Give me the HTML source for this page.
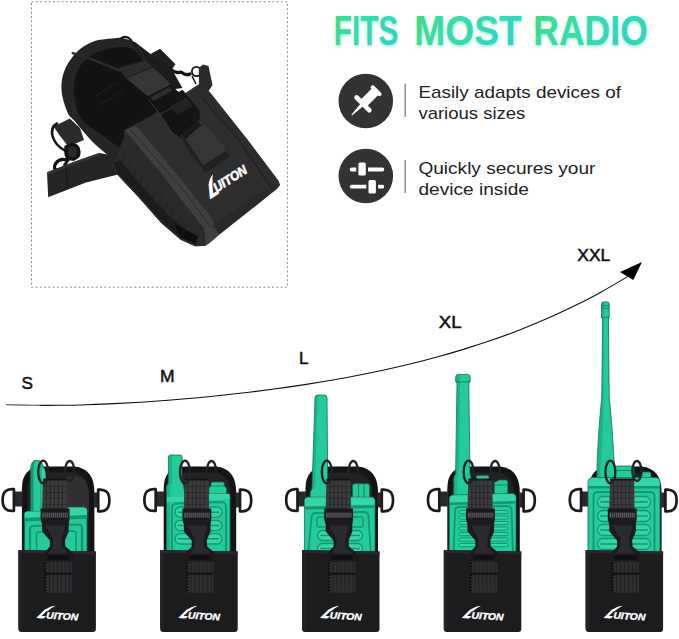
<!DOCTYPE html>
<html><head><meta charset="utf-8"><title>Fits most radio</title>
<style>
html,body{margin:0;padding:0;background:#fff;}
body{width:679px;height:639px;overflow:hidden;position:relative;font-family:"Liberation Sans",sans-serif;}
svg{position:absolute;left:0;top:0;}
</style></head>
<body>
<svg width="679" height="639" viewBox="0 0 679 639">
<defs>
 <linearGradient id="tg" x1="0" y1="0" x2="1" y2="0.35">
  <stop offset="0" stop-color="#44dc80"/><stop offset="0.45" stop-color="#36dcaa"/><stop offset="1" stop-color="#2fd6c2"/>
 </linearGradient>
 <filter id="soft" x="-20%" y="-20%" width="140%" height="140%"><feGaussianBlur stdDeviation="6"/></filter>
 <filter id="glow" x="-5%" y="-20%" width="110%" height="150%"><feGaussianBlur stdDeviation="1.6"/></filter>
</defs>
<rect width="679" height="639" fill="#fff"/>
<g stroke-linejoin="round"><rect x="31.5" y="1.8" width="255.9" height="285.4" fill="#fff" stroke="#8c8c8c" stroke-width="1" stroke-dasharray="2 2.3"/><polygon points="53.6,126.5 69.8,118.4 80.0,128.0 84.0,140.0 68.3,146.5 59.5,135.3" fill="#2b2b2d" /><path d="M57,123.5 Q50.5,127 52.5,136 Q55.5,146 65,150.5" fill="none" stroke="#161618" stroke-width="2.6" stroke-linecap="round"/><path d="M66,147 Q74,142 78,148 Q81,156 74,159 Q66,160 66,152 Z" fill="#2a2a2c" stroke="#131315" stroke-width="3.4"/><path d="M67,160 Q60,158 56,163 Q52,169 58,171 Q66,172 69,165" fill="none" stroke="#131315" stroke-width="3.2"/><path d="M70,157 L64,166" stroke="#131315" stroke-width="3"/><polygon points="47.0,172.2 75.0,161.5 99.2,153.0 128.0,158.0 128.0,172.0 86.0,182.5 48.2,197.2" fill="#242426" /><polygon points="47.0,172.2 75.0,161.5 99.2,153.0 100.0,155.5 76.0,164.0 49.0,174.5" fill="#333336" /><path d="M66,166 L68,189" stroke="#161618" stroke-width="1"/><polygon points="150.5,53.9 160.1,48.7 175.5,64.2 170.0,72.0 158.6,64.0" fill="#202022" /><path d="M170,69 Q176,74 181,72 Q186,76 190,74" fill="none" stroke="#131315" stroke-width="3.2" stroke-linecap="round"/><circle cx="196.5" cy="71.5" r="4.6" fill="none" stroke="#131315" stroke-width="1.8"/><path d="M192,76 L196,84 M200,74 L204,68" stroke="#131315" stroke-width="1.6"/><polygon points="198.8,68.0 203.0,64.5 208.5,66.0 212.5,85.0 207.7,92.5 199.0,86.0" fill="#2a2a2c" /><polygon points="119.9,39.1 135.0,42.0 150.5,53.9 171.6,69.0 182.5,88.1 155.3,92.0 133.5,63.6" fill="#1c1c1e" /><path d="M124.3,38.4 C120.0,37.1 117.2,38.0 112.5,38.4 C107.8,38.8 101.5,39.0 96.3,40.6 C91.1,42.2 85.4,45.3 81.5,48.0 C77.6,50.7 75.4,53.4 72.7,56.8 C70.0,60.2 67.1,64.4 65.3,68.6 C63.5,72.8 62.2,77.2 61.7,81.9 C61.2,86.6 61.3,91.2 62.4,96.6 C63.5,101.9 66.3,110.0 68.3,114.0 C70.3,118.0 70.3,116.1 74.2,120.6 C78.1,125.1 85.5,134.8 91.9,141.2 C98.3,147.6 106.2,153.8 112.5,158.9 C118.8,164.0 123.8,171.8 130.0,172.0 C136.2,172.2 145.0,170.3 150.0,160.0 C155.0,149.7 160.0,125.0 160.0,110.0 C160.0,95.0 153.7,80.7 150.0,70.0 C146.3,59.3 142.3,51.3 138.0,46.0 C133.7,40.7 128.6,39.7 124.3,38.4 Z" fill="#252527" /><path d="M132.0,49.0 C128.1,46.9 123.6,46.9 118.4,47.2 C113.2,47.5 105.6,49.3 100.7,50.9 C95.8,52.5 92.6,53.8 88.9,56.8 C85.2,59.8 81.0,64.4 78.6,68.6 C76.1,72.8 74.9,77.2 74.2,81.9 C73.5,86.6 73.5,91.2 74.2,96.6 C74.9,101.9 76.6,109.4 78.6,114.0 C80.6,118.6 82.3,120.7 86.0,124.0 C89.7,127.3 94.3,129.6 100.7,133.9 C107.1,138.2 117.8,147.3 124.3,150.0 C130.8,152.7 134.7,155.0 140.0,150.0 C145.3,145.0 154.0,130.8 156.0,120.0 C158.0,109.2 154.3,95.0 152.0,85.0 C149.7,75.0 145.3,66.0 142.0,60.0 C138.7,54.0 135.9,51.1 132.0,49.0 Z" fill="#131315" /><path d="M96,96 L118,82 M101,104 L123,90" stroke="#1f1f21" stroke-width="1.2"/><path d="M72.7,53.1 Q96,60 119.8,70.8" fill="none" stroke="#2c2c2f" stroke-width="2.4" stroke-linecap="round"/><path d="M120.3,38.8 Q126,34.5 131,40 Q138,49 142.4,58.3" fill="none" stroke="#1a1a1c" stroke-width="2"/><polygon points="124.7,130.2 151.2,116.2 198.4,84.8 209.1,91.7 247.4,140.0 278.4,181.2 279.6,185.0 276.9,188.6 219.5,234.0 210.0,242.2 205.7,245.3 195.4,246.0 180.7,239.4 161.5,223.0 139.5,198.0 117.4,174.4 111.0,163.0 116.6,154.5 124.7,138.3" fill="#2e2e31" stroke="#2a2a2c" stroke-width="0.8"/><polygon points="124.7,136.0 116.6,154.5 111.0,163.0 117.4,174.4 139.5,198.0 161.5,223.0 180.7,239.4 195.4,246.0 205.7,245.3 204.3,228.9 158.6,170.0 128.0,134.0" fill="#2a2a2c" /><polygon points="113.0,163.0 118.0,173.0 139.5,196.0 161.5,221.0 180.7,237.5 195.4,244.0 196.0,238.0 168.0,215.0 140.0,184.0 120.0,160.0" fill="#1b1b1d" /><polygon points="174.0,224.0 198.0,236.0 196.0,244.0 180.7,237.5" fill="#0e0e10" /><path d="M118.0,150.0 L113.0,163.0 M124.2,156.6 L119.2,169.6 M130.4,163.2 L125.4,176.2 M136.6,169.8 L131.6,182.8 M142.8,176.4 L137.8,189.4 M149.0,183.0 L144.0,196.0 M155.2,189.6 L150.2,202.6 M161.4,196.2 L156.4,209.2 M167.6,202.8 L162.6,215.8 M173.8,209.4 L168.8,222.4 M180.0,216.0 L175.0,229.0 M186.2,222.6 L181.2,235.6 " stroke="#1d1d1f" stroke-width="0.9" opacity="0.8"/><polygon points="124.7,130.2 136.0,125.5 173.3,170.0 210.0,215.7 219.5,234.0 210.0,242.2 205.7,245.3 204.3,228.9 158.6,170.0" fill="#3f3f42" /><path d="M131,130 L186.6,194 L210,226" fill="none" stroke="#222224" stroke-width="1.2" stroke-dasharray="1.4 1.6"/><polygon points="196.0,89.0 200.3,85.0 209.1,91.7 247.4,140.0 278.4,181.2 279.6,185.0 276.9,188.6 270.0,194.0 271.7,188.6 238.6,140.0 201.0,96.8" fill="#2c2c2f" /><path d="M201,96.8 L238.6,140 L271.7,188.6" fill="none" stroke="#1c1c1e" stroke-width="1"/><polygon points="270.0,194.0 219.5,234.0 212.0,226.0 266.0,188.0" fill="#29292c" /><polygon points="126.2,78.2 152.7,67.1 168.9,81.9 171.9,89.2 149.8,98.1 139.5,89.2" fill="#363639" /><polygon points="117.4,67.9 146.1,59.8 152.7,67.1 126.2,78.2" fill="#2c2c2e" stroke="#19191b" stroke-width="0.8"/><polygon points="147.0,96.5 170.5,84.4 178.5,92.1 182.5,89.7 199.6,110.5 199.5,122.0 190.0,129.0 179.0,138.5 171.0,131.0 158.0,112.0" fill="#141416" /><polygon points="150.0,97.5 169.5,87.0 172.5,90.5 153.5,101.0" fill="#2e2e31" /><polygon points="170.0,106.0 187.0,97.5 193.0,106.0 176.5,115.0" fill="#222225" /><path d="M148.5,99.5 L160,114 L172,108 M160,114 L172,133 L179,137" fill="none" stroke="#3a3a3d" stroke-width="1"/><polygon points="180.0,136.0 199.0,120.0 219.5,140.0 229.8,156.5 205.5,173.1 190.0,153.3" fill="#363639" /><polygon points="180.0,136.0 182.5,134.5 207.5,171.5 205.5,173.1 190.0,153.3" fill="#222224" /><polygon points="202.0,166.5 226.5,150.5 229.8,156.5 205.5,173.1" fill="#202022" /><polygon points="182.0,134.5 198.0,121.0 201.5,125.0 185.5,139.0" fill="#19191b" /><g transform="translate(209.6,199) rotate(-33)" font-family="'Liberation Sans',sans-serif" font-weight="bold" fill="#fff" stroke="#fff" stroke-width="0.4"><text transform="skewX(-28)" font-size="18" x="0" y="0" stroke-width="1.3">L</text><text font-style="italic" x="9.5" y="-1.5" font-size="13" textLength="37.5" lengthAdjust="spacingAndGlyphs" stroke-width="0.6">UITON</text><path d="M7,-12.5 Q10.5,-17 16.5,-19 Q13,-16 11.5,-12 Z" stroke="none"/></g></g>
<!-- title -->
<g font-family="'Liberation Sans',sans-serif" font-weight="bold" font-size="42.5">
<g fill="#a9ecd4" filter="url(#glow)" transform="translate(0.5,2)">
<text x="333.8" y="44.9" textLength="64.5" lengthAdjust="spacingAndGlyphs">FITS</text>
<text x="414.3" y="44.9" textLength="107.5" lengthAdjust="spacingAndGlyphs">MOST</text>
<text x="533.3" y="44.9" textLength="114.5" lengthAdjust="spacingAndGlyphs">RADIO</text>
</g>
<g fill="url(#tg)">
<text x="333.8" y="44.9" textLength="64.5" lengthAdjust="spacingAndGlyphs">FITS</text>
<text x="414.3" y="44.9" textLength="107.5" lengthAdjust="spacingAndGlyphs">MOST</text>
<text x="533.3" y="44.9" textLength="114.5" lengthAdjust="spacingAndGlyphs">RADIO</text>
</g>
</g>
<!-- icons -->
<circle cx="365.8" cy="101" r="27.3" fill="#333"/>
<g transform="translate(365.8,101) rotate(45)" fill="#fff">
 <rect x="-6.8" y="-16.6" width="13.6" height="4" rx="1.9"/>
 <rect x="-4.6" y="-13.5" width="9.2" height="16"/>
 <rect x="-11.3" y="1.6" width="22.6" height="4.8" rx="2.4"/>
 <path d="M-1.8,6 L1.8,6 L0.5,20 L-0.5,20 Z"/>
</g>
<circle cx="365.8" cy="176" r="27.3" fill="#333"/>
<g fill="#fff">
 <rect x="349.8" y="167.6" width="34.4" height="3.8" rx="1.9"/>
 <rect x="349.8" y="184.8" width="34.4" height="3.8" rx="1.9"/>
 <rect x="357.3" y="161.5" width="9.6" height="15" rx="2.6" stroke="#333" stroke-width="2.2"/>
 <rect x="367.4" y="179" width="9.6" height="15.5" rx="2.6" stroke="#333" stroke-width="2.2"/>
</g>
<rect x="404.6" y="83.5" width="1.2" height="33.5" fill="#777"/>
<rect x="404.6" y="160" width="1.2" height="33" fill="#777"/>
<g font-family="'Liberation Sans',sans-serif" font-size="17" fill="#222">
 <text x="418.4" y="98.3" textLength="202.5" lengthAdjust="spacingAndGlyphs">Easily adapts devices of</text>
 <text x="418.4" y="118.8" textLength="107" lengthAdjust="spacingAndGlyphs">various sizes</text>
 <text x="418.4" y="174.3" textLength="177" lengthAdjust="spacingAndGlyphs">Quickly secures your</text>
 <text x="418.4" y="194.8" textLength="110.5" lengthAdjust="spacingAndGlyphs">device inside</text>
</g>
<!-- curve -->
<path d="M6.0,404.8 C10.5,404.9 24.0,405.2 33.0,405.3 C42.0,405.4 51.0,405.4 60.0,405.3 C69.0,405.2 78.0,405.0 87.0,404.7 C96.0,404.4 105.0,404.1 114.0,403.6 C123.0,403.2 132.0,402.7 141.0,402.2 C150.0,401.6 159.0,401.0 168.0,400.3 C177.0,399.6 186.0,398.8 195.0,398.0 C204.0,397.2 213.0,396.3 222.0,395.3 C231.0,394.4 240.0,393.4 249.0,392.3 C258.0,391.2 267.0,390.0 276.0,388.8 C285.0,387.6 294.0,386.3 303.0,384.9 C312.0,383.5 321.0,382.0 330.0,380.5 C339.0,378.9 348.0,377.3 357.0,375.5 C366.0,373.8 375.0,371.9 384.0,370.0 C393.0,368.0 402.0,365.9 411.0,363.7 C420.0,361.5 429.0,359.2 438.0,356.7 C447.0,354.3 456.0,351.7 465.0,348.9 C474.0,346.1 483.0,343.2 492.0,340.1 C501.0,337.0 510.0,333.7 519.0,330.2 C528.0,326.7 537.0,323.0 546.0,319.1 C555.0,315.2 564.0,311.0 573.0,306.6 C582.0,302.2 590.8,297.8 600.0,292.7 C609.2,287.6 623.8,278.9 628.5,276.1 " fill="none" stroke="#111" stroke-width="1.1"/><path d="M2,405.2 L40,405" stroke="#fff" stroke-width="1" opacity="0.55"/>
<path d="M642,262 L620,272 L633.3,280 Z" fill="#000"/>
<g font-family="'Liberation Sans',sans-serif" font-size="17.2" fill="#111" stroke="#111" stroke-width="0.5">
 <text x="21.6" y="389">S</text>
 <text x="160" y="381.5" textLength="14.6" lengthAdjust="spacingAndGlyphs">M</text>
 <text x="299" y="363.5">L</text>
 <text x="438.8" y="327.5" textLength="22.8" lengthAdjust="spacingAndGlyphs">XL</text>
 <text x="577.3" y="260.7" textLength="33" lengthAdjust="spacingAndGlyphs">XXL</text>
</g>
<g transform="translate(18.4,550.5)">
 <path d="M3.5,2 L3.5,-62 Q3.5,-84 25,-84 L56,-84 Q76,-82 76,-58 L76,2 Z" fill="#141416"/>
 <path d="M9,2 L9,-60 Q9,-78 27,-78 L54,-78 Q70.5,-76 70.5,-56 L70.5,2 Z" fill="#222224"/>
 <rect x="-4" y="-59" width="8" height="15" fill="#2a2a2c"/>
 <rect x="75.5" y="-58" width="4" height="15" fill="#2a2a2c"/>
 <path d="M-4.5,-61.3 Q-15.8,-62.5 -15.8,-50.5 Q-15.8,-38.5 -4.5,-39.7 Z" fill="none" stroke="#1b1b1d" stroke-width="2.7" stroke-linejoin="round"/>
 <path d="M79.8,-60.8 Q91,-62 91,-50 Q91,-38 79.8,-39.2 Z" fill="none" stroke="#1b1b1d" stroke-width="2.7" stroke-linejoin="round"/>
<path d="M48,-74 L58,-74 Q70.5,-72 70.5,-54 L70.5,-32 L48,-36 Z" fill="#313134"/></g>

<g stroke-linejoin="round">
 <path d="M30.7,552 L30.7,469 Q30.7,460.2 37,460.2 Q43.3,460.2 43.3,469 L43.3,552 Z" fill="#22cb99" stroke="#146b52" stroke-width="0.8"/>
 <path d="M41,466 Q45.8,467 45.8,476 L45.8,505 Q45.8,510 43,512 L41,512 Z" fill="#34d6a8" stroke="#146b52" stroke-width="0.6"/>
 <path d="M31,469 Q31,461 36,460.5 Q33.5,463 33.5,470 L33.5,552 L31,552 Z" fill="#159672"/>
 <path d="M24.6,554 L24.6,514 Q24.6,511.5 27,511.5 L66,511.5 L68,507.5 L84,507.5 Q87,507.5 87,511 L87,554 Z" fill="#22cb99" stroke="#146b52" stroke-width="0.8"/>
 <path d="M24.6,514 Q24.6,511.5 27,511.5 L66,511.5 L68,507.5 L84,507.5 Q87,507.5 87,511 L87,515 L24.6,518 Z" fill="#34d6a8"/>
 <path d="M24.6,518 L87,515 L87,518.5 L24.6,521.5 Z" fill="#159672"/>
 <path d="M30,554 L30,529 Q30,526 34,526 L78,524.5 Q82,524.5 82,528 L82,554" fill="none" stroke="#159672" stroke-width="2.2"/>
 <path d="M36.5,554 L36.5,534 Q36.5,532 39,532 L73,531 Q76,531 76,533 L76,554" fill="none" stroke="#159672" stroke-width="1.5"/>
</g><g transform="translate(18.4,550.5)">
 <path d="M23.5,-37 L24.5,-71 L48.5,-71 L49,-37 Z" fill="#3b3b3e"/>
 <path d="M24.5,-71 L48.5,-71" stroke="#141416" stroke-width="2"/>
 <g stroke="#222224" stroke-width="0.9" opacity="0.8"><path d="M28,-69 V-38 M32,-69 V-38 M36,-69 V-38 M40,-69 V-38 M44,-69 V-38"/></g>
 <g stroke="#1c1c1e" stroke-width="0.7" opacity="0.6"><path d="M24.5,-64 H48.5 M24.5,-58 H48.5 M24.5,-52 H48.5 M24.5,-46 H48.5"/></g>
 <ellipse cx="24.8" cy="-78.5" rx="5" ry="11.3" fill="none" stroke="#222225" stroke-width="2.3"/>
 <ellipse cx="51.3" cy="-79.5" rx="4.6" ry="10" fill="none" stroke="#222225" stroke-width="2.3"/>
 <path d="M0,-0.5 L77.5,1 L77.5,78.5 Q77.5,81.5 74.5,81.5 L3,81.5 Q0,81.5 0,78.5 Z" fill="#1c1c1e"/>
 <path d="M0,-0.5 L77.5,1 L77.5,4 L0,2.5 Z" fill="#2a2a2d"/>
 <rect x="0" y="2" width="3.5" height="76" fill="#232326"/>
 <rect x="27" y="2" width="26.5" height="40" fill="#2f2f32"/>
 <g stroke="#1c1c1e" stroke-width="0.9" opacity="0.8"><path d="M31,12 V41 M35,12 V41 M39,12 V41 M43,12 V41 M47,12 V41 M51,12 V41"/></g>
 <rect x="27" y="22" width="26.5" height="2.5" fill="#151517"/>
 <path d="M27,12 V42" stroke="#0c0c0e" stroke-width="2.5" stroke-dasharray="1.5 1.5"/>
 <path d="M22.2,-42 L51.1,-42 L51.1,-31 L50.3,-26 L50.3,-19 L46.5,-10 L47,-4 L54.3,2 L54.3,11.4 L26,11.4 L26,2 L31.5,-4 L31.5,-10 L23.7,-19 L23.7,-26 L22.2,-31 Z" fill="#1b1b1e"/>
 <path d="M24,-37.8 H49.5 V-33 H24 Z" fill="#5c5c61"/>
 <g stroke="#222" stroke-width="0.8"><path d="M26,-38 V-33 M28,-38 V-33 M30,-38 V-33 M32,-38 V-33 M34,-38 V-33 M36,-38 V-33 M38,-38 V-33 M40,-38 V-33 M42,-38 V-33 M44,-38 V-33 M46,-38 V-33 M48,-38 V-33"/></g>
 <path d="M27,-25 L47,-25 L43.5,-12 L43.5,-4 L50,3 L30,3 L34.5,-4 L34.5,-12 Z" fill="#2b2b2f"/>
 <path d="M29,5 H51 V9 H29 Z" fill="#101012"/>
 <g transform="rotate(3.5 17 67)" font-family="'Liberation Sans',sans-serif" font-weight="bold" fill="#fff" stroke="#fff" stroke-width="0.35">
 <text transform="translate(18.2,67) skewX(-42)" font-size="12" x="0" y="0" stroke-width="1.1" stroke-linejoin="round">L</text>
 <text font-style="italic" x="27.6" y="67.4" font-size="9.4" textLength="32" lengthAdjust="spacingAndGlyphs">UITON</text>
 <path d="M25.2,59.6 Q30,55 36.5,54 Q32,56.4 28.6,60 Z" stroke="none"/>
 </g>
</g>
<g transform="translate(160.2,550.5)">
 <path d="M3.5,2 L3.5,-62 Q3.5,-84 25,-84 L56,-84 Q76,-82 76,-58 L76,2 Z" fill="#141416"/>
 <path d="M9,2 L9,-60 Q9,-78 27,-78 L54,-78 Q70.5,-76 70.5,-56 L70.5,2 Z" fill="#222224"/>
 <rect x="-4" y="-59" width="8" height="15" fill="#2a2a2c"/>
 <rect x="75.5" y="-58" width="4" height="15" fill="#2a2a2c"/>
 <path d="M-4.5,-61.3 Q-15.8,-62.5 -15.8,-50.5 Q-15.8,-38.5 -4.5,-39.7 Z" fill="none" stroke="#1b1b1d" stroke-width="2.7" stroke-linejoin="round"/>
 <path d="M79.8,-60.8 Q91,-62 91,-50 Q91,-38 79.8,-39.2 Z" fill="none" stroke="#1b1b1d" stroke-width="2.7" stroke-linejoin="round"/>
</g>

<g stroke-linejoin="round">
 <path d="M166.5,556 L166.5,486 L168.4,483 L168.4,457 Q168.4,455 170.5,455 L180,455 Q182,455 182,457 L182,478 L185.5,497 L207,497 L207,494 L228,494 Q230,494 230,497 L230,556 Z" fill="#22cb99" stroke="#146b52" stroke-width="0.8"/>
 <path d="M168.7,483 L168.7,457 Q168.7,455.3 170.5,455.3 L172,455.3 L172,483 L170,486 L170,556 L166.8,556 L166.8,486 Z" fill="#159672" opacity="0.45"/>
 <path d="M209,494 L209,488 L211,486 L211,483.5 Q211,482 213,482 L222.5,482 Q224.3,482 224.3,483.5 L224.3,486 L226.5,488 L226.5,494 Z" fill="#22cb99" stroke="#146b52" stroke-width="0.8"/>
 <path d="M211,486 H224.3" stroke="#146b52" stroke-width="0.7"/>
 <path d="M167,497 L207,497 L207,494 L229.6,494 L229.6,499 L167,502 Z" fill="#34d6a8"/>
 <path d="M172,556 L172,508 Q172,503.5 177,503.5 L221,502 Q226,502 226,507 L226,556" fill="none" stroke="#159672" stroke-width="1.8"/>
 <rect x="175.0" y="507.0" width="22.0" height="10.3" rx="5.2" fill="#34d6a8" stroke="#159672" stroke-width="1.3"/><rect x="177.5" y="511.4" width="17.0" height="1.6" rx="0.8" fill="#159672"/><rect x="200.0" y="507.0" width="22.0" height="10.3" rx="5.2" fill="#34d6a8" stroke="#159672" stroke-width="1.3"/><rect x="202.5" y="511.4" width="17.0" height="1.6" rx="0.8" fill="#159672"/><rect x="175.0" y="520.3" width="22.0" height="10.3" rx="5.2" fill="#34d6a8" stroke="#159672" stroke-width="1.3"/><rect x="177.5" y="524.7" width="17.0" height="1.6" rx="0.8" fill="#159672"/><rect x="200.0" y="520.3" width="22.0" height="10.3" rx="5.2" fill="#34d6a8" stroke="#159672" stroke-width="1.3"/><rect x="202.5" y="524.7" width="17.0" height="1.6" rx="0.8" fill="#159672"/><rect x="175.0" y="533.7" width="22.0" height="10.3" rx="5.2" fill="#34d6a8" stroke="#159672" stroke-width="1.3"/><rect x="177.5" y="538.0" width="17.0" height="1.6" rx="0.8" fill="#159672"/><rect x="200.0" y="533.7" width="22.0" height="10.3" rx="5.2" fill="#34d6a8" stroke="#159672" stroke-width="1.3"/><rect x="202.5" y="538.0" width="17.0" height="1.6" rx="0.8" fill="#159672"/>
</g><g transform="translate(160.2,550.5)">
 <path d="M23.5,-37 L24.5,-71 L48.5,-71 L49,-37 Z" fill="#3b3b3e"/>
 <path d="M24.5,-71 L48.5,-71" stroke="#141416" stroke-width="2"/>
 <g stroke="#222224" stroke-width="0.9" opacity="0.8"><path d="M28,-69 V-38 M32,-69 V-38 M36,-69 V-38 M40,-69 V-38 M44,-69 V-38"/></g>
 <g stroke="#1c1c1e" stroke-width="0.7" opacity="0.6"><path d="M24.5,-64 H48.5 M24.5,-58 H48.5 M24.5,-52 H48.5 M24.5,-46 H48.5"/></g>
 <ellipse cx="24.8" cy="-78.5" rx="5" ry="11.3" fill="none" stroke="#222225" stroke-width="2.3"/>
 <ellipse cx="51.3" cy="-79.5" rx="4.6" ry="10" fill="none" stroke="#222225" stroke-width="2.3"/>
 <path d="M0,-0.5 L77.5,1 L77.5,78.5 Q77.5,81.5 74.5,81.5 L3,81.5 Q0,81.5 0,78.5 Z" fill="#1c1c1e"/>
 <path d="M0,-0.5 L77.5,1 L77.5,4 L0,2.5 Z" fill="#2a2a2d"/>
 <rect x="0" y="2" width="3.5" height="76" fill="#232326"/>
 <rect x="27" y="2" width="26.5" height="40" fill="#2f2f32"/>
 <g stroke="#1c1c1e" stroke-width="0.9" opacity="0.8"><path d="M31,12 V41 M35,12 V41 M39,12 V41 M43,12 V41 M47,12 V41 M51,12 V41"/></g>
 <rect x="27" y="22" width="26.5" height="2.5" fill="#151517"/>
 <path d="M27,12 V42" stroke="#0c0c0e" stroke-width="2.5" stroke-dasharray="1.5 1.5"/>
 <path d="M22.2,-42 L51.1,-42 L51.1,-31 L50.3,-26 L50.3,-19 L46.5,-10 L47,-4 L54.3,2 L54.3,11.4 L26,11.4 L26,2 L31.5,-4 L31.5,-10 L23.7,-19 L23.7,-26 L22.2,-31 Z" fill="#1b1b1e"/>
 <path d="M24,-37.8 H49.5 V-33 H24 Z" fill="#5c5c61"/>
 <g stroke="#222" stroke-width="0.8"><path d="M26,-38 V-33 M28,-38 V-33 M30,-38 V-33 M32,-38 V-33 M34,-38 V-33 M36,-38 V-33 M38,-38 V-33 M40,-38 V-33 M42,-38 V-33 M44,-38 V-33 M46,-38 V-33 M48,-38 V-33"/></g>
 <path d="M27,-25 L47,-25 L43.5,-12 L43.5,-4 L50,3 L30,3 L34.5,-4 L34.5,-12 Z" fill="#2b2b2f"/>
 <path d="M29,5 H51 V9 H29 Z" fill="#101012"/>
 <g transform="rotate(3.5 17 67)" font-family="'Liberation Sans',sans-serif" font-weight="bold" fill="#fff" stroke="#fff" stroke-width="0.35">
 <text transform="translate(18.2,67) skewX(-42)" font-size="12" x="0" y="0" stroke-width="1.1" stroke-linejoin="round">L</text>
 <text font-style="italic" x="27.6" y="67.4" font-size="9.4" textLength="32" lengthAdjust="spacingAndGlyphs">UITON</text>
 <path d="M25.2,59.6 Q30,55 36.5,54 Q32,56.4 28.6,60 Z" stroke="none"/>
 </g>
</g>
<g transform="translate(302.0,550.5)">
 <path d="M3.5,2 L3.5,-62 Q3.5,-84 25,-84 L56,-84 Q76,-82 76,-58 L76,2 Z" fill="#141416"/>
 <path d="M9,2 L9,-60 Q9,-78 27,-78 L54,-78 Q70.5,-76 70.5,-56 L70.5,2 Z" fill="#222224"/>
 <rect x="-4" y="-59" width="8" height="15" fill="#2a2a2c"/>
 <rect x="75.5" y="-58" width="4" height="15" fill="#2a2a2c"/>
 <path d="M-4.5,-61.3 Q-15.8,-62.5 -15.8,-50.5 Q-15.8,-38.5 -4.5,-39.7 Z" fill="none" stroke="#1b1b1d" stroke-width="2.7" stroke-linejoin="round"/>
 <path d="M79.8,-60.8 Q91,-62 91,-50 Q91,-38 79.8,-39.2 Z" fill="none" stroke="#1b1b1d" stroke-width="2.7" stroke-linejoin="round"/>
</g>

<g stroke-linejoin="round">
 <path d="M310.2,499 L310.2,492 L312,489 L315,398 Q315,395 318,395 L324,395 Q327,395 327,398 L327.8,489 L328.4,492 L328.4,499 Z" fill="#22cb99" stroke="#146b52" stroke-width="0.8"/>
 <path d="M312.3,489 L315.3,398 Q315.3,395.3 318,395.3 L319,395.3 Q317.5,397 317.5,400 L315,489 Z" fill="#159672" opacity="0.45"/>
 <path d="M352.5,498 L352.5,486 Q352.5,483.7 355,483.7 L367,483.7 Q369.6,483.7 369.6,486 L369.6,498 Z" fill="#22cb99" stroke="#146b52" stroke-width="0.8"/>
 <path d="M358.5,484 V497 M364,484 V497" stroke="#146b52" stroke-width="0.8"/>
 <path d="M304.4,556 L304.4,501 Q304.4,497.2 308.5,497.2 L371,497.2 Q375,497.2 375,501 L375,556 Z" fill="#22cb99" stroke="#146b52" stroke-width="0.8"/>
 <path d="M304.8,501 Q304.8,497.6 308.5,497.6 L371,497.6 Q374.6,497.6 374.6,501 L374.6,505 L304.8,506.5 Z" fill="#34d6a8"/>
 <path d="M304.8,506.5 L374.6,505 L374.6,508 L304.8,509.5 Z" fill="#159672"/>
 <path d="M308,556 L311.5,517 Q312,513 316,513 L364,512 Q368,512 368.5,516 L371,556" fill="none" stroke="#159672" stroke-width="1.8"/>
 <rect x="317" y="517" width="46" height="10" rx="2" fill="none" stroke="#159672" stroke-width="1.4"/>
 <rect x="317.5" y="530.5" width="21.0" height="10.0" rx="5.0" fill="#34d6a8" stroke="#159672" stroke-width="1.3"/><rect x="320.0" y="534.7" width="16.0" height="1.6" rx="0.8" fill="#159672"/><rect x="341.5" y="530.5" width="21.0" height="10.0" rx="5.0" fill="#34d6a8" stroke="#159672" stroke-width="1.3"/><rect x="344.0" y="534.7" width="16.0" height="1.6" rx="0.8" fill="#159672"/><rect x="317.5" y="543.5" width="21.0" height="10.0" rx="5.0" fill="#34d6a8" stroke="#159672" stroke-width="1.3"/><rect x="320.0" y="547.7" width="16.0" height="1.6" rx="0.8" fill="#159672"/><rect x="341.5" y="543.5" width="21.0" height="10.0" rx="5.0" fill="#34d6a8" stroke="#159672" stroke-width="1.3"/><rect x="344.0" y="547.7" width="16.0" height="1.6" rx="0.8" fill="#159672"/>
</g><g transform="translate(302.0,550.5)">
 <path d="M23.5,-37 L24.5,-71 L48.5,-71 L49,-37 Z" fill="#3b3b3e"/>
 <path d="M24.5,-71 L48.5,-71" stroke="#141416" stroke-width="2"/>
 <g stroke="#222224" stroke-width="0.9" opacity="0.8"><path d="M28,-69 V-38 M32,-69 V-38 M36,-69 V-38 M40,-69 V-38 M44,-69 V-38"/></g>
 <g stroke="#1c1c1e" stroke-width="0.7" opacity="0.6"><path d="M24.5,-64 H48.5 M24.5,-58 H48.5 M24.5,-52 H48.5 M24.5,-46 H48.5"/></g>
 <ellipse cx="24.8" cy="-78.5" rx="5" ry="11.3" fill="none" stroke="#222225" stroke-width="2.3"/>
 <ellipse cx="51.3" cy="-79.5" rx="4.6" ry="10" fill="none" stroke="#222225" stroke-width="2.3"/>
 <path d="M0,-0.5 L77.5,1 L77.5,78.5 Q77.5,81.5 74.5,81.5 L3,81.5 Q0,81.5 0,78.5 Z" fill="#1c1c1e"/>
 <path d="M0,-0.5 L77.5,1 L77.5,4 L0,2.5 Z" fill="#2a2a2d"/>
 <rect x="0" y="2" width="3.5" height="76" fill="#232326"/>
 <rect x="27" y="2" width="26.5" height="40" fill="#2f2f32"/>
 <g stroke="#1c1c1e" stroke-width="0.9" opacity="0.8"><path d="M31,12 V41 M35,12 V41 M39,12 V41 M43,12 V41 M47,12 V41 M51,12 V41"/></g>
 <rect x="27" y="22" width="26.5" height="2.5" fill="#151517"/>
 <path d="M27,12 V42" stroke="#0c0c0e" stroke-width="2.5" stroke-dasharray="1.5 1.5"/>
 <path d="M22.2,-42 L51.1,-42 L51.1,-31 L50.3,-26 L50.3,-19 L46.5,-10 L47,-4 L54.3,2 L54.3,11.4 L26,11.4 L26,2 L31.5,-4 L31.5,-10 L23.7,-19 L23.7,-26 L22.2,-31 Z" fill="#1b1b1e"/>
 <path d="M24,-37.8 H49.5 V-33 H24 Z" fill="#5c5c61"/>
 <g stroke="#222" stroke-width="0.8"><path d="M26,-38 V-33 M28,-38 V-33 M30,-38 V-33 M32,-38 V-33 M34,-38 V-33 M36,-38 V-33 M38,-38 V-33 M40,-38 V-33 M42,-38 V-33 M44,-38 V-33 M46,-38 V-33 M48,-38 V-33"/></g>
 <path d="M27,-25 L47,-25 L43.5,-12 L43.5,-4 L50,3 L30,3 L34.5,-4 L34.5,-12 Z" fill="#2b2b2f"/>
 <path d="M29,5 H51 V9 H29 Z" fill="#101012"/>
 <g transform="rotate(3.5 17 67)" font-family="'Liberation Sans',sans-serif" font-weight="bold" fill="#fff" stroke="#fff" stroke-width="0.35">
 <text transform="translate(18.2,67) skewX(-42)" font-size="12" x="0" y="0" stroke-width="1.1" stroke-linejoin="round">L</text>
 <text font-style="italic" x="27.6" y="67.4" font-size="9.4" textLength="32" lengthAdjust="spacingAndGlyphs">UITON</text>
 <path d="M25.2,59.6 Q30,55 36.5,54 Q32,56.4 28.6,60 Z" stroke="none"/>
 </g>
</g>
<g transform="translate(443.8,550.5)">
 <path d="M3.5,2 L3.5,-62 Q3.5,-84 25,-84 L56,-84 Q76,-82 76,-58 L76,2 Z" fill="#141416"/>
 <path d="M9,2 L9,-60 Q9,-78 27,-78 L54,-78 Q70.5,-76 70.5,-56 L70.5,2 Z" fill="#222224"/>
 <rect x="-4" y="-59" width="8" height="15" fill="#2a2a2c"/>
 <rect x="75.5" y="-58" width="4" height="15" fill="#2a2a2c"/>
 <path d="M-4.5,-61.3 Q-15.8,-62.5 -15.8,-50.5 Q-15.8,-38.5 -4.5,-39.7 Z" fill="none" stroke="#1b1b1d" stroke-width="2.7" stroke-linejoin="round"/>
 <path d="M79.8,-60.8 Q91,-62 91,-50 Q91,-38 79.8,-39.2 Z" fill="none" stroke="#1b1b1d" stroke-width="2.7" stroke-linejoin="round"/>
</g>

<g stroke-linejoin="round">
 <path d="M453.8,497 L453.8,478 L455.6,474 L457,383 L455.7,381.5 L455.7,377 Q455.7,374.4 458.5,374.4 L467.3,374.4 Q470.1,374.4 470.1,377 L470.1,381.5 L468.8,383 L470,474 L471.2,478 L471.2,497 Z" fill="#22cb99" stroke="#146b52" stroke-width="0.8"/>
 <path d="M454.2,497 L454.2,478 L456,474 L457.3,383 L456,381.5 L456,377 Q456,374.7 458.5,374.7 L460,374.7 L460,383 L458.5,474 L457.2,478 L457.2,497 Z" fill="#159672" opacity="0.45"/>
 <path d="M455.7,381.8 L470.1,381.8" stroke="#146b52" stroke-width="0.8"/>
 <rect x="476.3" y="475.6" width="12.7" height="22" rx="1.5" fill="#22cb99" stroke="#146b52" stroke-width="0.8"/>
 <path d="M494.3,497 L494.3,482 Q494.3,480 496.5,480 L505.5,480 Q507.8,480 507.8,482 L507.8,497 Z" fill="#22cb99" stroke="#146b52" stroke-width="0.8"/>
 <path d="M494.3,485 H507.8" stroke="#146b52" stroke-width="0.7"/>
 <path d="M449.3,556 L449.3,499 Q449.3,495 453.5,495 L512,493.6 Q516,493.6 516,497.5 L516,556 Z" fill="#22cb99" stroke="#146b52" stroke-width="0.8"/>
 <path d="M449.7,499 Q449.7,495.4 453.5,495.4 L512,494 Q515.6,494 515.6,497.5 L515.6,501 L449.7,502.5 Z" fill="#34d6a8"/>
 <path d="M449.7,502.5 L515.6,501 L515.6,503.5 L449.7,505 Z" fill="#159672"/>
 <path d="M453.5,556 L455,511 Q455,507 459.5,507 L507,506 Q511.5,506 511.5,510 L513,556" fill="none" stroke="#159672" stroke-width="1.8"/>
 <rect x="459" y="510.5" width="49" height="3.2" rx="1.6" fill="#34d6a8" stroke="#159672" stroke-width="1"/><rect x="459" y="516.0" width="49" height="3.2" rx="1.6" fill="#34d6a8" stroke="#159672" stroke-width="1"/><rect x="459" y="521.5" width="49" height="3.2" rx="1.6" fill="#34d6a8" stroke="#159672" stroke-width="1"/><rect x="459" y="527.0" width="49" height="3.2" rx="1.6" fill="#34d6a8" stroke="#159672" stroke-width="1"/><rect x="459" y="532.5" width="49" height="3.2" rx="1.6" fill="#34d6a8" stroke="#159672" stroke-width="1"/><rect x="459" y="538.0" width="49" height="3.2" rx="1.6" fill="#34d6a8" stroke="#159672" stroke-width="1"/><rect x="459" y="543.5" width="49" height="3.2" rx="1.6" fill="#34d6a8" stroke="#159672" stroke-width="1"/>
</g><g transform="translate(443.8,550.5)">
 <path d="M23.5,-37 L24.5,-71 L48.5,-71 L49,-37 Z" fill="#3b3b3e"/>
 <path d="M24.5,-71 L48.5,-71" stroke="#141416" stroke-width="2"/>
 <g stroke="#222224" stroke-width="0.9" opacity="0.8"><path d="M28,-69 V-38 M32,-69 V-38 M36,-69 V-38 M40,-69 V-38 M44,-69 V-38"/></g>
 <g stroke="#1c1c1e" stroke-width="0.7" opacity="0.6"><path d="M24.5,-64 H48.5 M24.5,-58 H48.5 M24.5,-52 H48.5 M24.5,-46 H48.5"/></g>
 <ellipse cx="24.8" cy="-78.5" rx="5" ry="11.3" fill="none" stroke="#222225" stroke-width="2.3"/>
 <ellipse cx="51.3" cy="-79.5" rx="4.6" ry="10" fill="none" stroke="#222225" stroke-width="2.3"/>
 <path d="M0,-0.5 L77.5,1 L77.5,78.5 Q77.5,81.5 74.5,81.5 L3,81.5 Q0,81.5 0,78.5 Z" fill="#1c1c1e"/>
 <path d="M0,-0.5 L77.5,1 L77.5,4 L0,2.5 Z" fill="#2a2a2d"/>
 <rect x="0" y="2" width="3.5" height="76" fill="#232326"/>
 <rect x="27" y="2" width="26.5" height="40" fill="#2f2f32"/>
 <g stroke="#1c1c1e" stroke-width="0.9" opacity="0.8"><path d="M31,12 V41 M35,12 V41 M39,12 V41 M43,12 V41 M47,12 V41 M51,12 V41"/></g>
 <rect x="27" y="22" width="26.5" height="2.5" fill="#151517"/>
 <path d="M27,12 V42" stroke="#0c0c0e" stroke-width="2.5" stroke-dasharray="1.5 1.5"/>
 <path d="M22.2,-42 L51.1,-42 L51.1,-31 L50.3,-26 L50.3,-19 L46.5,-10 L47,-4 L54.3,2 L54.3,11.4 L26,11.4 L26,2 L31.5,-4 L31.5,-10 L23.7,-19 L23.7,-26 L22.2,-31 Z" fill="#1b1b1e"/>
 <path d="M24,-37.8 H49.5 V-33 H24 Z" fill="#5c5c61"/>
 <g stroke="#222" stroke-width="0.8"><path d="M26,-38 V-33 M28,-38 V-33 M30,-38 V-33 M32,-38 V-33 M34,-38 V-33 M36,-38 V-33 M38,-38 V-33 M40,-38 V-33 M42,-38 V-33 M44,-38 V-33 M46,-38 V-33 M48,-38 V-33"/></g>
 <path d="M27,-25 L47,-25 L43.5,-12 L43.5,-4 L50,3 L30,3 L34.5,-4 L34.5,-12 Z" fill="#2b2b2f"/>
 <path d="M29,5 H51 V9 H29 Z" fill="#101012"/>
 <g transform="rotate(3.5 17 67)" font-family="'Liberation Sans',sans-serif" font-weight="bold" fill="#fff" stroke="#fff" stroke-width="0.35">
 <text transform="translate(18.2,67) skewX(-42)" font-size="12" x="0" y="0" stroke-width="1.1" stroke-linejoin="round">L</text>
 <text font-style="italic" x="27.6" y="67.4" font-size="9.4" textLength="32" lengthAdjust="spacingAndGlyphs">UITON</text>
 <path d="M25.2,59.6 Q30,55 36.5,54 Q32,56.4 28.6,60 Z" stroke="none"/>
 </g>
</g>
<g transform="translate(585.6,550.5)">
 <path d="M3.5,2 L3.5,-62 Q3.5,-84 25,-84 L56,-84 Q76,-82 76,-58 L76,2 Z" fill="#141416"/>
 <path d="M9,2 L9,-60 Q9,-78 27,-78 L54,-78 Q70.5,-76 70.5,-56 L70.5,2 Z" fill="#222224"/>
 <rect x="-4" y="-59" width="8" height="15" fill="#2a2a2c"/>
 <rect x="75.5" y="-58" width="4" height="15" fill="#2a2a2c"/>
 <path d="M-4.5,-61.3 Q-15.8,-62.5 -15.8,-50.5 Q-15.8,-38.5 -4.5,-39.7 Z" fill="none" stroke="#1b1b1d" stroke-width="2.7" stroke-linejoin="round"/>
 <path d="M79.8,-60.8 Q91,-62 91,-50 Q91,-38 79.8,-39.2 Z" fill="none" stroke="#1b1b1d" stroke-width="2.7" stroke-linejoin="round"/>
</g>

<g stroke-linejoin="round">
 <path d="M597,480 L597,465 L598.5,435 L600.5,410 L601.8,397 L602.6,320 L601.6,317.5 L601.6,304 Q601.6,301.9 603.3,301.9 L607.5,301.9 Q609.2,301.9 609.2,304 L609.2,317.5 L608.4,320 L609.2,397 L610.5,410 L612.5,435 L614.4,465 L614.6,480 Z" fill="#22cb99" stroke="#146b52" stroke-width="0.8"/>
 <path d="M597.4,480 L597.4,465 L598.9,435 L600.9,410 L601.7,397 L602.4,320 L601.6,317.5 L601.6,304 Q601.6,302.2 603.3,302.2 L604,302.2 L604,320 L603.6,397 L602.5,435 L600.5,465 L600.5,480 Z" fill="#159672" opacity="0.45"/>
 <path d="M601.5,305.5 h8 M601.5,308 h8 M601.5,317.3 h8" stroke="#146b52" stroke-width="0.7"/>
 <path d="M615,480 L615,468.5 Q615,466 618,466 L631,466 Q634,466 634,468.5 L634,480 Z" fill="#22cb99" stroke="#146b52" stroke-width="0.8"/>
 <path d="M615,470.5 H634" stroke="#146b52" stroke-width="0.7"/>
 <path d="M641,480 L641,474 Q641,472 643,472 L649,472 Q651,472 651,474 L651,480 Z" fill="#22cb99" stroke="#146b52" stroke-width="0.8"/>
 <path d="M588,556 L588,483 Q588,477.6 593,477.6 L655,477.6 Q660,477.6 660,483 L660,556 Z" fill="#22cb99" stroke="#146b52" stroke-width="0.8"/>
 <path d="M588.4,483 Q588.4,478 593,478 L655,478 Q659.6,478 659.6,483 L659.6,486 L588.4,486 Z" fill="#34d6a8"/>
 <path d="M588.4,486 H659.6 V488.5 H588.4 Z" fill="#159672"/>
 <rect x="593.5" y="492" width="61" height="62" rx="4" fill="none" stroke="#159672" stroke-width="1.8"/>
 <rect x="597.5" y="496.5" width="25.0" height="11.0" rx="5.5" fill="#34d6a8" stroke="#159672" stroke-width="1.3"/><rect x="600.0" y="501.2" width="20.0" height="1.6" rx="0.8" fill="#159672"/><rect x="625.5" y="496.5" width="25.0" height="11.0" rx="5.5" fill="#34d6a8" stroke="#159672" stroke-width="1.3"/><rect x="628.0" y="501.2" width="20.0" height="1.6" rx="0.8" fill="#159672"/><rect x="597.5" y="510.5" width="25.0" height="11.0" rx="5.5" fill="#34d6a8" stroke="#159672" stroke-width="1.3"/><rect x="600.0" y="515.2" width="20.0" height="1.6" rx="0.8" fill="#159672"/><rect x="625.5" y="510.5" width="25.0" height="11.0" rx="5.5" fill="#34d6a8" stroke="#159672" stroke-width="1.3"/><rect x="628.0" y="515.2" width="20.0" height="1.6" rx="0.8" fill="#159672"/><rect x="597.5" y="524.5" width="25.0" height="11.0" rx="5.5" fill="#34d6a8" stroke="#159672" stroke-width="1.3"/><rect x="600.0" y="529.2" width="20.0" height="1.6" rx="0.8" fill="#159672"/><rect x="625.5" y="524.5" width="25.0" height="11.0" rx="5.5" fill="#34d6a8" stroke="#159672" stroke-width="1.3"/><rect x="628.0" y="529.2" width="20.0" height="1.6" rx="0.8" fill="#159672"/><rect x="597.5" y="538.5" width="25.0" height="11.0" rx="5.5" fill="#34d6a8" stroke="#159672" stroke-width="1.3"/><rect x="600.0" y="543.2" width="20.0" height="1.6" rx="0.8" fill="#159672"/><rect x="625.5" y="538.5" width="25.0" height="11.0" rx="5.5" fill="#34d6a8" stroke="#159672" stroke-width="1.3"/><rect x="628.0" y="543.2" width="20.0" height="1.6" rx="0.8" fill="#159672"/>
</g><g transform="translate(585.6,550.5)">
 <path d="M23.5,-37 L24.5,-71 L48.5,-71 L49,-37 Z" fill="#3b3b3e"/>
 <path d="M24.5,-71 L48.5,-71" stroke="#141416" stroke-width="2"/>
 <g stroke="#222224" stroke-width="0.9" opacity="0.8"><path d="M28,-69 V-38 M32,-69 V-38 M36,-69 V-38 M40,-69 V-38 M44,-69 V-38"/></g>
 <g stroke="#1c1c1e" stroke-width="0.7" opacity="0.6"><path d="M24.5,-64 H48.5 M24.5,-58 H48.5 M24.5,-52 H48.5 M24.5,-46 H48.5"/></g>
 <ellipse cx="24.8" cy="-78.5" rx="5" ry="11.3" fill="none" stroke="#222225" stroke-width="2.3"/>
 <ellipse cx="51.3" cy="-79.5" rx="4.6" ry="10" fill="none" stroke="#222225" stroke-width="2.3"/>
 <path d="M0,-0.5 L77.5,1 L77.5,78.5 Q77.5,81.5 74.5,81.5 L3,81.5 Q0,81.5 0,78.5 Z" fill="#1c1c1e"/>
 <path d="M0,-0.5 L77.5,1 L77.5,4 L0,2.5 Z" fill="#2a2a2d"/>
 <rect x="0" y="2" width="3.5" height="76" fill="#232326"/>
 <rect x="27" y="2" width="26.5" height="40" fill="#2f2f32"/>
 <g stroke="#1c1c1e" stroke-width="0.9" opacity="0.8"><path d="M31,12 V41 M35,12 V41 M39,12 V41 M43,12 V41 M47,12 V41 M51,12 V41"/></g>
 <rect x="27" y="22" width="26.5" height="2.5" fill="#151517"/>
 <path d="M27,12 V42" stroke="#0c0c0e" stroke-width="2.5" stroke-dasharray="1.5 1.5"/>
 <path d="M22.2,-42 L51.1,-42 L51.1,-31 L50.3,-26 L50.3,-19 L46.5,-10 L47,-4 L54.3,2 L54.3,11.4 L26,11.4 L26,2 L31.5,-4 L31.5,-10 L23.7,-19 L23.7,-26 L22.2,-31 Z" fill="#1b1b1e"/>
 <path d="M24,-37.8 H49.5 V-33 H24 Z" fill="#5c5c61"/>
 <g stroke="#222" stroke-width="0.8"><path d="M26,-38 V-33 M28,-38 V-33 M30,-38 V-33 M32,-38 V-33 M34,-38 V-33 M36,-38 V-33 M38,-38 V-33 M40,-38 V-33 M42,-38 V-33 M44,-38 V-33 M46,-38 V-33 M48,-38 V-33"/></g>
 <path d="M27,-25 L47,-25 L43.5,-12 L43.5,-4 L50,3 L30,3 L34.5,-4 L34.5,-12 Z" fill="#2b2b2f"/>
 <path d="M29,5 H51 V9 H29 Z" fill="#101012"/>
 <g transform="rotate(3.5 17 67)" font-family="'Liberation Sans',sans-serif" font-weight="bold" fill="#fff" stroke="#fff" stroke-width="0.35">
 <text transform="translate(18.2,67) skewX(-42)" font-size="12" x="0" y="0" stroke-width="1.1" stroke-linejoin="round">L</text>
 <text font-style="italic" x="27.6" y="67.4" font-size="9.4" textLength="32" lengthAdjust="spacingAndGlyphs">UITON</text>
 <path d="M25.2,59.6 Q30,55 36.5,54 Q32,56.4 28.6,60 Z" stroke="none"/>
 </g>
</g>

</svg>
</body></html>
